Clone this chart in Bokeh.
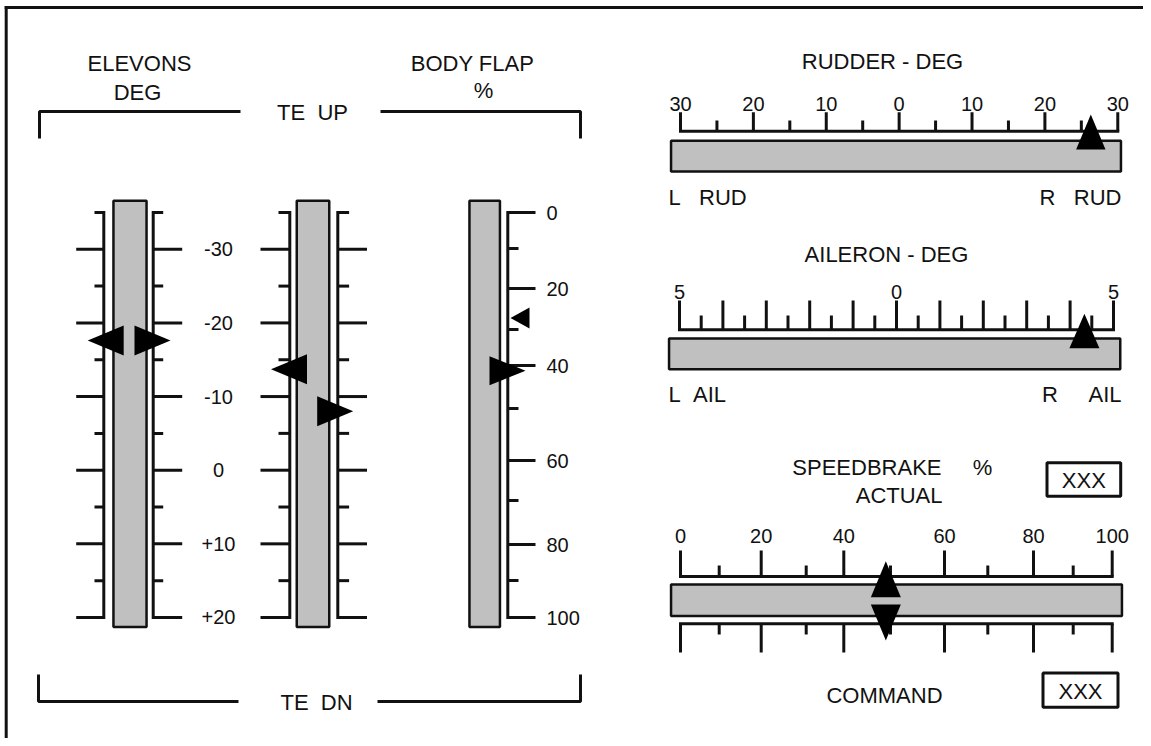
import numpy as np
from bokeh.plotting import figure
from bokeh.models import Range1d
from bokeh.embed import file_html
from bokeh.resources import INLINE
from bokeh.core.properties import value

# ------------------------------------------------------------------ data
ELEVON_TICKS = [-35, -30, -25, -20, -15, -10, -5, 0, 5, 10, 15, 20]
ELEVON_LABEL_VALUES = [-30, -20, -10, 0, 10, 20]
ELEVON_LABELS = ["-30", "-20", "-10", "0", "+10", "+20"]
ELEVON_OUTBD = [-17.6, -17.6]      # left / right pointer, first bar
ELEVON_INBD = [-13.7, -8.0]        # left / right pointer, second bar

BODYFLAP_TICKS = [0, 10, 20, 30, 40, 50, 60, 70, 80, 90, 100]
BODYFLAP_LABEL_VALUES = [0, 20, 40, 60, 80, 100]
BODYFLAP_LABELS = ["0", "20", "40", "60", "80", "100"]
BODYFLAP_CMD = 27.2
BODYFLAP_POS = 41.2

RUDDER_TICKS = [-30, -25, -20, -15, -10, -5, 0, 5, 10, 15, 20, 25, 30]
RUDDER_LABEL_VALUES = [-30, -20, -10, 0, 10, 20, 30]
RUDDER_LABELS = ["30", "20", "10", "0", "10", "20", "30"]
RUDDER_POS = 26.3

AILERON_TICKS = [-5, -4.5, -4, -3.5, -3, -2.5, -2, -1.5, -1, -0.5, 0,
                 0.5, 1, 1.5, 2, 2.5, 3, 3.5, 4, 4.5, 5]
AILERON_LABEL_VALUES = [-5, 0, 5]
AILERON_LABELS = ["5", "0", "5"]
AILERON_POS = 4.33

SPEEDBRAKE_TICKS = [0, 10, 20, 30, 40, 50, 60, 70, 80, 90, 100]
SPEEDBRAKE_LABEL_VALUES = [0, 20, 40, 60, 80, 100]
SPEEDBRAKE_LABELS = ["0", "20", "40", "60", "80", "100"]
SPEEDBRAKE_ACTUAL = 49
SPEEDBRAKE_COMMAND = 49
SPEEDBRAKE_READOUTS = ["XXX", "XXX"]

# ------------------------------------------------------------------ layout
W, H = 1143, 738
FONT = value("Liberation Sans")
INK = "#111111"
GRAY = "#C0C0C0"
SP = "\u00a0"

def elev_y(v):
    return 469.7 + 7.364 * np.asarray(v, dtype=float)

BF_CAL_V = [0, 10, 20, 30, 40, 50, 60, 70, 80, 90, 100]
BF_CAL_PX = [212, 248, 288, 329, 365, 408, 460, 500, 544, 580, 617]
def bf_y(v):
    return np.interp(v, BF_CAL_V, BF_CAL_PX)

def rud_x(v):
    return 680 + (np.asarray(v, dtype=float) + 30) * 7.288

def ail_x(v):
    return 679 + (np.asarray(v, dtype=float) + 5) * 43.4

SB_CAL_V = [0, 10, 20, 30, 40, 50, 60, 70, 80, 90, 100]
SB_CAL_PX = [680, 718.7, 760.7, 805.7, 843.3, 890, 944, 987.3, 1033, 1072.7, 1111.7]
def sb_x(v):
    return np.interp(v, SB_CAL_V, SB_CAL_PX)

p = figure(width=W, height=H, x_range=Range1d(0, W), y_range=Range1d(H, 0),
           output_backend="svg", toolbar_location=None, min_border=0)
p.axis.visible = False
p.grid.visible = False
p.outline_line_color = None
p.border_fill_color = "white"
p.background_fill_color = "white"

LW = 3

def txt(x, y, t, size="21px", align="center", baseline="middle"):
    t = [t] if isinstance(t, str) else list(t)
    n = len(t)
    xs = [x] * n if np.isscalar(x) else list(x)
    ys = [y] * n if np.isscalar(y) else list(y)
    p.text(x=xs, y=ys, text=t,
           text_font=FONT, text_font_size=size, text_color=INK,
           text_align=align, text_baseline=baseline)

def bar(l, r, t, b, lw=2.5):
    h = lw / 2
    p.quad(left=[l + h], right=[r - h], top=[t + h], bottom=[b - h],
           fill_color=GRAY, line_color=INK, line_width=lw)

def tri(xs, ys):
    p.patch(x=xs, y=ys, fill_color="black", line_color=None)

# outer frame (left and top edges)
p.segment(x0=[5.7, 4.2], y0=[5.5, 7], x1=[5.7, W], y1=[H, 7], line_color=INK, line_width=LW)

# ------------------------------------------------------------------ elevons / body flap
txt(139, 63, "ELEVONS", "22px")
txt(137, 92, "DEG", "22px")
txt(472, 63, "BODY FLAP", "22px")
txt(483, 90, "%", "22px")
txt(312, 112, "TE" + SP * 2 + "UP", "22px")
txt(316, 702, "TE" + SP * 2 + "DN", "22px")

p.multi_line(xs=[[39, 39, 240], [380, 580, 580]], ys=[[138, 111, 111], [111, 111, 138]],
             line_color=INK, line_width=LW)
p.multi_line(xs=[[38, 38, 238], [377, 580, 580]], ys=[[674, 701, 701], [701, 701, 674]],
             line_color=INK, line_width=LW)

BAR_TOP, BAR_BOT = 199, 627.7
elev_bars = [
    dict(l=111.7, r=147.3, line_l=103.3, line_r=152.7, long_l=75.7, short_l=94,
         long_r=181.7, short_r=162.7, ptr=ELEVON_OUTBD),
    dict(l=295, r=330, line_l=289.3, line_r=337.3, long_l=260, short_l=278,
         long_r=366.5, short_r=348.6, ptr=ELEVON_INBD),
]
y_top = float(elev_y(min(ELEVON_TICKS)))
y_bot = float(elev_y(max(ELEVON_TICKS)))
for b in elev_bars:
    bar(b["l"], b["r"], BAR_TOP, BAR_BOT)
    x0s, x1s, ys = [], [], []
    for v in ELEVON_TICKS:
        y = float(elev_y(v))
        major = (v % 10 == 0)
        x0s += [b["long_l"] if major else b["short_l"], b["line_r"]]
        x1s += [b["line_l"], b["long_r"] if major else b["short_r"]]
        ys += [y, y]
    p.segment(x0=x0s, y0=ys, x1=x1s, y1=ys, line_color=INK, line_width=LW)
    p.segment(x0=[b["line_l"], b["line_r"]], y0=[y_top - 1.5] * 2,
              x1=[b["line_l"], b["line_r"]], y1=[y_bot + 1.5] * 2,
              line_color=INK, line_width=LW)

txt(218, [float(elev_y(v)) for v in ELEVON_LABEL_VALUES], ELEVON_LABELS, "20px")

hh = 15
for b in elev_bars:
    yl = float(elev_y(b["ptr"][0]))
    yr = float(elev_y(b["ptr"][1]))
    base_l = b["l"] + 11.5
    tri([base_l - 36, base_l, base_l], [yl, yl - hh, yl + hh])
    base_r = b["r"] - 13.3
    tri([base_r, base_r, base_r + 36], [yr - hh, yr + hh, yr])

bar(467.7, 500.7, BAR_TOP, BAR_BOT)
BF_LINE = 507.3
x0s, x1s, ys = [], [], []
for v in BODYFLAP_TICKS:
    y = float(bf_y(v))
    x0s.append(BF_LINE)
    x1s.append(535 if v % 20 == 0 else 518)
    ys.append(y)
p.segment(x0=x0s, y0=ys, x1=x1s, y1=ys, line_color=INK, line_width=LW)
p.segment(x0=[BF_LINE], y0=[float(bf_y(0)) - 1.5], x1=[BF_LINE], y1=[float(bf_y(100)) + 1.5],
          line_color=INK, line_width=LW)
txt(546, [float(bf_y(v)) for v in BODYFLAP_LABEL_VALUES], BODYFLAP_LABELS, "20px", align="left")

yc = float(bf_y(BODYFLAP_CMD))
tri([510, 529, 529], [yc, yc - 10.5, yc + 10.5])
yp = float(bf_y(BODYFLAP_POS))
tri([489, 489, 525], [yp - 14.5, yp + 14.5, yp])

# ------------------------------------------------------------------ rudder
txt(882, 61, "RUDDER - DEG", "22px")
txt([float(rud_x(v)) for v in RUDDER_LABEL_VALUES], 103, RUDDER_LABELS, "20px")
RB = 130.7
xs = [float(rud_x(v)) for v in RUDDER_TICKS]
p.segment(x0=xs, y0=[111.7 if v % 10 == 0 else 120 for v in RUDDER_TICKS], x1=xs, y1=[RB] * len(xs),
          line_color=INK, line_width=LW)
p.segment(x0=[xs[0] - 1.5], y0=[RB], x1=[xs[-1] + 1.5], y1=[RB], line_color=INK, line_width=LW)
bar(669.3, 1121.7, 139, 172.3)
ax = float(rud_x(RUDDER_POS))
tri([ax, ax - 14.7, ax + 14.7], [114, 149, 149])
txt(668, 197, "L" + SP * 3 + "RUD", "22px", align="left")
txt(1121, 197, "R" + SP * 3 + "RUD", "22px", align="right")

# ------------------------------------------------------------------ aileron
txt(886, 254, "AILERON - DEG", "22px")
txt([float(ail_x(v)) for v in AILERON_LABEL_VALUES], 291, AILERON_LABELS, "20px")
AB = 329.3
xs = [float(ail_x(v)) for v in AILERON_TICKS]
p.segment(x0=xs, y0=[300 if float(v).is_integer() else 315 for v in AILERON_TICKS], x1=xs,
          y1=[AB] * len(xs), line_color=INK, line_width=LW)
p.segment(x0=[xs[0] - 1.5], y0=[AB], x1=[xs[-1] + 1.5], y1=[AB], line_color=INK, line_width=LW)
bar(667.3, 1121, 336.7, 370)
ax = float(ail_x(AILERON_POS))
tri([ax, ax - 15, ax + 15], [313.3, 347.7, 347.7])
txt(668, 394, "L" + SP * 2 + "AIL", "22px", align="left")
txt(1121, 394, "R" + SP * 5 + "AIL", "22px", align="right")

# ------------------------------------------------------------------ speedbrake
txt(941, 467, "SPEEDBRAKE", "22px", align="right")
txt(982, 467, "%", "22px")
txt(942, 495, "ACTUAL", "22px", align="right")
txt(884, 695, "COMMAND", "22px")

def box(l, r, t, b, label):
    p.quad(left=[l + 1.5], right=[r - 1.5], top=[t + 1.5], bottom=[b - 1.5],
           fill_color="white", line_color=INK, line_width=LW)
    txt((l + r) / 2, (t + b) / 2 + 1, label, "22px")

box(1045, 1121.7, 460.7, 497.3, SPEEDBRAKE_READOUTS[0])
box(1041, 1119, 671, 708.3, SPEEDBRAKE_READOUTS[1])

txt([float(sb_x(v)) for v in SPEEDBRAKE_LABEL_VALUES], 535, SPEEDBRAKE_LABELS, "20px")
xs = [float(sb_x(v)) for v in SPEEDBRAKE_TICKS]
TB, BB = 576, 623.3
p.segment(x0=xs, y0=[550 if v % 20 == 0 else 565 for v in SPEEDBRAKE_TICKS], x1=xs,
          y1=[TB] * len(xs), line_color=INK, line_width=LW)
p.segment(x0=xs, y0=[BB] * len(xs), x1=xs,
          y1=[652 if v % 20 == 0 else 634 for v in SPEEDBRAKE_TICKS], line_color=INK, line_width=LW)
p.segment(x0=[xs[0] - 1.5, xs[0] - 1.5], y0=[TB, BB], x1=[xs[-1] + 1.5, xs[-1] + 1.5], y1=[TB, BB],
          line_color=INK, line_width=LW)
bar(669.3, 1122.7, 582.7, 616.7)
xa = float(sb_x(SPEEDBRAKE_ACTUAL))
tri([xa, xa - 15, xa + 15], [560.7, 596.7, 596.7])
xc = float(sb_x(SPEEDBRAKE_COMMAND))
tri([xc - 15, xc + 15, xc], [604, 604, 640])

open("out.html", "w").write(file_html(p, INLINE))
